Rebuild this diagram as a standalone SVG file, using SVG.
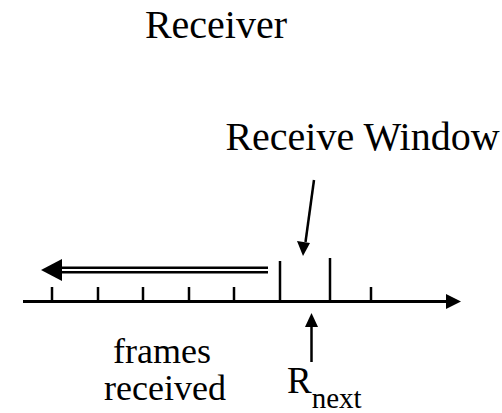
<svg xmlns="http://www.w3.org/2000/svg" width="502" height="413" viewBox="0 0 502 413">
  <style>
    text { font-family: "Liberation Serif", "Times New Roman", serif; fill: #000; }
    .big { font-size: 40px; }
    .lbl { font-size: 36px; }
    .r { font-size: 37px; }
    .sub { font-size: 29px; }
    .ln { stroke: #000; stroke-width: 3; fill: none; }
    .tk { stroke: #000; stroke-width: 2.5; fill: none; }
  </style>

  <rect width="502" height="413" fill="#fff"/>

  <g id="title">
    <text class="big" x="216" y="38" text-anchor="middle">Receiver</text>
  </g>

  <g id="window-label">
    <text class="big" x="362.5" y="150" text-anchor="middle">Receive Window</text>
  </g>

  <g id="frames-label">
    <text class="lbl" x="162" y="363" text-anchor="middle">frames</text>
    <text class="lbl" x="165" y="400" text-anchor="middle">received</text>
  </g>

  <g id="rnext-label">
    <text class="r" x="287" y="393">R<tspan class="sub" dy="15">next</tspan></text>
  </g>

  <g id="axis">
    <line class="ln" x1="23" y1="301.5" x2="447" y2="301.5"/>
    <path d="M446,294 L461,301.5 L446,309 Z" fill="#000"/>
    <!-- frame ticks -->
    <line class="tk" x1="52" y1="287" x2="52" y2="301"/>
    <line class="tk" x1="98" y1="287" x2="98" y2="301"/>
    <line class="tk" x1="143" y1="287" x2="143" y2="301"/>
    <line class="tk" x1="189" y1="287" x2="189" y2="301"/>
    <line class="tk" x1="234" y1="287" x2="234" y2="301"/>
    <line class="tk" x1="371" y1="287" x2="371" y2="301"/>
    <!-- window edges -->
    <line class="tk" x1="280" y1="261" x2="280" y2="301"/>
    <line class="tk" x1="330" y1="258" x2="330" y2="301"/>
  </g>

  <g id="connectors">
    <!-- double-line arrow over received frames -->
    <line class="tk" x1="60" y1="267.7" x2="268" y2="267.7"/>
    <line class="tk" x1="60" y1="272.3" x2="268" y2="272.3"/>
    <path d="M41,270 L62,259 L62,281 Z" fill="#000"/>
    <!-- pointer to receive window -->
    <line class="tk" x1="314" y1="180" x2="305.5" y2="242"/>
    <path d="M297,241 L310,243 L303,256 Z" fill="#000"/>
    <!-- pointer from R_next -->
    <line class="tk" x1="311.5" y1="362" x2="311.5" y2="325"/>
    <path d="M305,327 L318,327 L311.5,313 Z" fill="#000"/>
  </g>
</svg>
